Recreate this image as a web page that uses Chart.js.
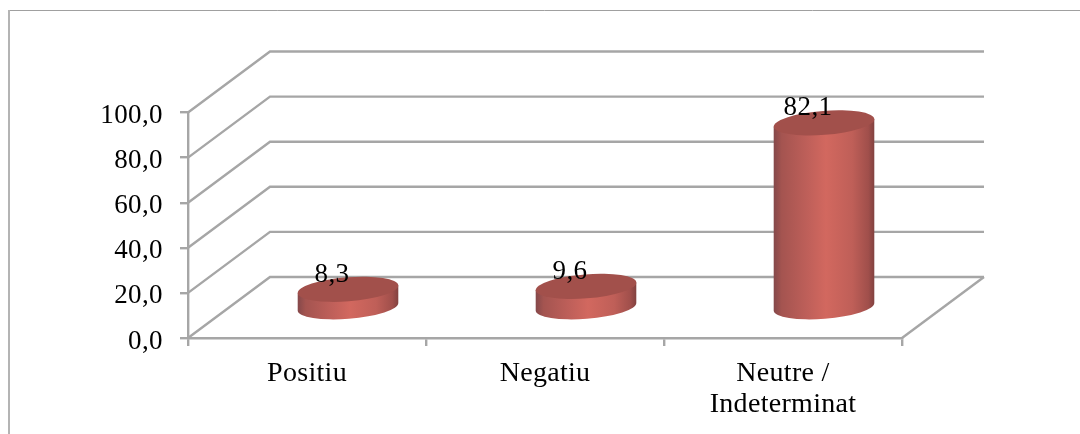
<!DOCTYPE html>
<html><head><meta charset="utf-8">
<style>html,body{margin:0;padding:0;background:#fff}#w{width:1080px;height:434px;position:relative;overflow:hidden}</style>
<script src="https://cdn.jsdelivr.net/npm/chart.js@4"></script>
</head><body><div id="w"><canvas id="c" width="1080" height="434"></canvas></div>
<script>
const categories = [["Positiu"],["Negatiu"],["Neutre /","Indeterminat"]];
const values = [8.3, 9.6, 82.1];
const seriesName = "Valor";
const tickValues = [0,20,40,60,80,100];
const fontFamily = "'Liberation Serif', serif";
const gridColor = "#a6a6a6";
const depth = {dx:82, dy:61};
const fmt = v => v.toFixed(1).replace(".",",");

const frame = {id:'frame', beforeDraw(ch){
  const c=ch.ctx; c.save(); c.strokeStyle='#a0a0a0'; c.lineWidth=1;
  c.beginPath(); c.moveTo(1080,10.5); c.lineTo(9.5,10.5); c.stroke();
  c.strokeStyle='#b4b4b4'; c.lineWidth=2; c.beginPath(); c.moveTo(9,10); c.lineTo(9,434); c.stroke(); c.restore();
  const x=ch.scales.x;
  if(!x._wrapped){ const o=x.drawLabels.bind(x); x.drawLabels=a=>{c.save(); c.letterSpacing='0.3px'; c.translate(0,3); o(a); c.restore();}; x._wrapped=true; }
  const y=ch.scales.y;
  if(!y._wrapped){ const o=y.drawLabels.bind(y); y.drawLabels=a=>{c.save(); c.letterSpacing='0.4px'; c.translate(0,3.5); o(a); c.restore();}; y._wrapped=true; }
}};
const walls = {id:'walls', beforeDatasetsDraw(ch){
  const c=ch.ctx,{x:xs,y:ys}=ch.scales,L=xs.left,R=xs.right;
  c.save(); c.strokeStyle=gridColor; c.lineWidth=2.4; c.lineJoin='miter';
  ys.ticks.forEach(t=>{const y=ys.getPixelForValue(t.value);
    c.beginPath(); c.moveTo(L,y); c.lineTo(L+depth.dx,y-depth.dy); c.lineTo(R+depth.dx,y-depth.dy); c.stroke();});
  const y0=ys.getPixelForValue(0);
  c.beginPath(); c.moveTo(R,y0); c.lineTo(R+depth.dx,y0-depth.dy); c.stroke();
  c.restore();
}};
const cylinders = {id:'cylinders', beforeDatasetDraw(ch,args){
  const c=ch.ctx, meta=ch.getDatasetMeta(args.index);
  const rot=-4.5*Math.PI/180, ry=12;
  meta.data.forEach((b,i)=>{
    const cx=b.x+depth.dx/2, rx=b.width/2;
    const yb=b.base-depth.dy/2+0.5, yt=b.y-depth.dy/2+0.5;
    const ex=rx*Math.cos(rot), ey=rx*Math.sin(rot);
    const g=c.createLinearGradient(cx-rx,0,cx+rx,0);
    g.addColorStop(0,'#84484a'); g.addColorStop(.08,'#a45450'); g.addColorStop(.35,'#c0605a');
    g.addColorStop(.52,'#d2685f'); g.addColorStop(.78,'#bf5f58'); g.addColorStop(.94,'#a04f4b'); g.addColorStop(1,'#81413f');
    c.save();
    c.beginPath(); c.moveTo(cx-ex,yt-ey); c.lineTo(cx-ex,yb-ey);
    c.ellipse(cx,yb,rx,ry,rot,Math.PI,0,true);
    c.lineTo(cx+ex,yt+ey); c.closePath(); c.fillStyle=g; c.fill();
    c.beginPath(); c.ellipse(cx,yt,rx,ry,rot,0,Math.PI*2); c.fillStyle='#a2504b'; c.fill();
    c.restore();
  });
  return false;
}, afterDatasetsDraw(ch){
  const c=ch.ctx, meta=ch.getDatasetMeta(0);
  c.save(); c.font="27px "+fontFamily; c.fillStyle='#000'; c.textAlign='center'; c.textBaseline='middle'; c.letterSpacing='0.4px';
  meta.data.forEach((b,i)=>{ c.fillText(fmt(values[i]), b.x+depth.dx/2-16, b.y-depth.dy/2-14); });
  c.restore();
}};
new Chart(document.getElementById('c'),{
  type:'bar',
  data:{labels:categories,datasets:[{label:seriesName,data:values,backgroundColor:'#c0504d',barPercentage:.424,categoryPercentage:1}]},
  plugins:[frame,walls,cylinders],
  options:{
    responsive:false,animation:false,devicePixelRatio:1,
    layout:{padding:{top:112.5,right:178,left:0,bottom:0}},
    plugins:{legend:{display:false},title:{display:false},tooltip:{enabled:false}},
    scales:{
      x:{afterFit:s=>{s.height=434-112.5-225.5;},
        grid:{drawOnChartArea:false,color:gridColor,lineWidth:2.4,tickLength:8,offset:true},
        border:{color:gridColor,width:2.4},
        ticks:{color:'#000',padding:9,maxRotation:0,autoSkip:false,font:{family:fontFamily,size:28,lineHeight:1.1}}},
      y:{min:0,max:100,afterFit:s=>{s.width=188;},
        afterBuildTicks:s=>{s.ticks=tickValues.map(v=>({value:v}));},
        grid:{drawOnChartArea:false,color:gridColor,lineWidth:2.4,tickLength:8},
        border:{color:gridColor,width:2.4},
        ticks:{color:'#000',padding:17,callback:v=>fmt(v),font:{family:fontFamily,size:27}}}
    }
  }
});
</script></body></html>
